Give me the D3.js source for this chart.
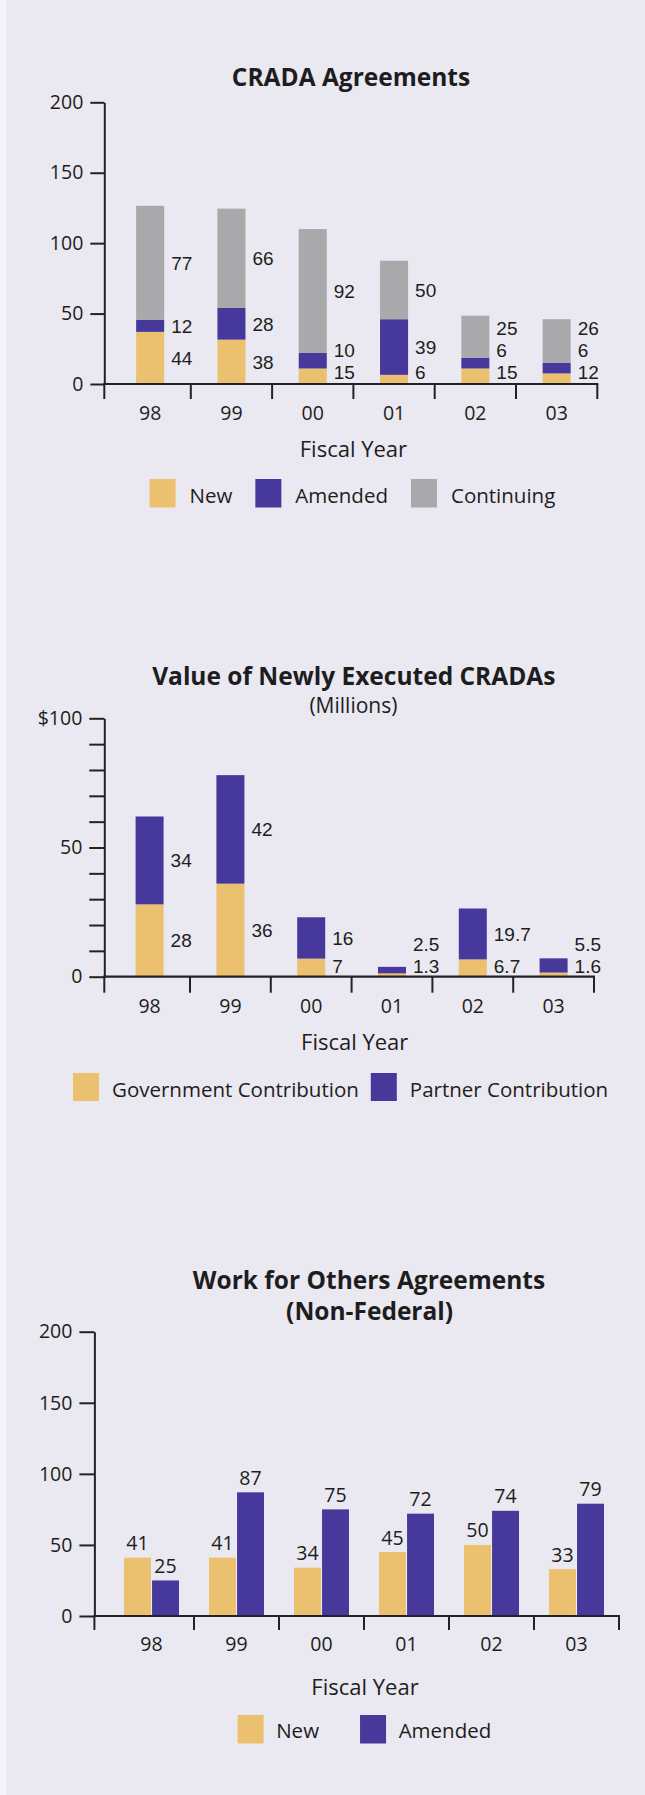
<!DOCTYPE html>
<html><head><meta charset="utf-8">
<script src="https://cdn.jsdelivr.net/npm/d3@7"></script>
<style>
html,body{margin:0;padding:0;background:#eae8f0;}
svg{display:block;}
text{font-family:"Open Sans",sans-serif;fill:#1d1d20;}
</style></head><body>
<svg id="c" width="645" height="1795"></svg>
<script>
// ---------- DATA ----------
const years = ["98", "99", "00", "01", "02", "03"];

// Chart 1: CRADA Agreements (bar heights as drawn, and the printed labels)
const cradaNew = [37, 31.5, 11, 6.5, 11, 7.5];
const cradaAmended = [8.5, 22.5, 11, 39.5, 7.5, 7.5];
const cradaContinuing = [81, 70.5, 88, 41.5, 30, 31];
const cradaNewLabels = ["44", "38", "15", "6", "15", "12"];
const cradaAmendedLabels = ["12", "28", "10", "39", "6", "6"];
const cradaContinuingLabels = ["77", "66", "92", "50", "25", "26"];
const cradaTicks = [0, 50, 100, 150, 200];

// Chart 2: Value of Newly Executed CRADAs (Millions)
const valueGov = [28, 36, 7, 1.3, 6.7, 1.6];
const valuePartner = [34, 42, 16, 2.5, 19.7, 5.5];
const valueTicks = [0, 10, 20, 30, 40, 50, 60, 70, 80, 90, 100];
const valueTickLabels = ["0", "", "", "", "", "50", "", "", "", "", "$100"];

// Chart 3: Work for Others Agreements (Non-Federal)
const wfoNew = [41, 41, 34, 45, 50, 33];
const wfoAmended = [25, 87, 75, 72, 74, 79];
const wfoTicks = [0, 50, 100, 150, 200];

// ---------- STYLE ----------
const C_NEW = "#ebc06f", C_AMD = "#46399b", C_CONT = "#a9a9ab", C_AX = "#222226";
const FS_VAL = 19.5, FS_TICK = 19.5, FS_XT = 22, FS_TITLE = 24.5, FS_LEG = 20.5;

const svg = d3.select("#c");
svg.append("rect").attr("x", 0).attr("y", 0).attr("width", 645).attr("height", 1795).attr("fill", "#eae8f0");
svg.append("rect").attr("x", 0).attr("y", 0).attr("width", 6).attr("height", 1795).attr("fill", "#f4f3f7");

function yAxis(g, y, ticks, fmt, x0, len) {
  const ax = g.append("g").attr("transform", `translate(${x0},0)`)
    .call(d3.axisLeft(y).tickValues(ticks).tickFormat(fmt).tickSize(len).tickSizeOuter(0).tickPadding(7));
  ax.attr("font-family", null).attr("font-size", null);
  ax.select(".domain").attr("stroke", C_AX).attr("stroke-width", 2);
  ax.selectAll(".tick line").attr("stroke", C_AX).attr("stroke-width", 2);
  ax.selectAll(".tick text").attr("font-size", FS_TICK).attr("fill", "#1d1d20");
}

function xAxis(g, x, yAxisX, y0, labelBase, tickLen) {
  const r = x.range(), step = x.step();
  g.append("line").attr("x1", yAxisX - 1).attr("x2", r[1] + 1).attr("y1", y0).attr("y2", y0)
    .attr("stroke", C_AX).attr("stroke-width", 2.2);
  const tks = [yAxisX].concat(d3.range(1, x.domain().length + 1).map(i => r[0] + i * step));
  g.selectAll(null).data(tks).join("line")
    .attr("x1", d => d).attr("x2", d => d).attr("y1", y0).attr("y2", y0 + tickLen)
    .attr("stroke", C_AX).attr("stroke-width", 2);
  g.selectAll(null).data(x.domain()).join("text")
    .attr("x", d => x(d) + x.bandwidth() / 2).attr("y", labelBase)
    .attr("text-anchor", "middle").attr("font-size", FS_VAL).text(d => d);
}

function legend(g, items, x0, top, h, base, swGap, itemGap) {
  let x = x0;
  items.forEach(it => {
    g.append("rect").attr("x", x).attr("y", top).attr("width", 26).attr("height", h).attr("fill", it.color);
    x += 26 + swGap;
    const t = g.append("text").attr("x", x).attr("y", base).attr("font-size", FS_LEG).text(it.name);
    x += t.node().getComputedTextLength() + itemGap;
  });
}

function stackedLabels(g, x, y, keys, rows, labels, clampGap, minGap) {
  const y0 = y(0);
  rows.forEach((row, i) => {
    let prev = null, acc = 0;
    keys.forEach((k, j) => {
      const lo = acc, hi = acc + row[k]; acc = hi;
      let c = (y(lo) + y(hi)) / 2;
      if (prev === null) c = Math.min(c, y0 - clampGap);
      else c = Math.min(c, prev - minGap);
      prev = c;
      g.append("text").attr("x", x(row.year) + x.bandwidth() + 7).attr("y", c).attr("dy", "0.36em")
        .style("font-family", '"Liberation Sans", Arial, sans-serif')
        .attr("font-size", 19).text(labels[j][i]);
    });
  });
}

// ---------- CHART 1 ----------
{
  const g = svg.append("g");
  const x = d3.scaleBand().domain(years).range([109.5, 597.3]).paddingInner(0.655).paddingOuter(0.3275);
  const y = d3.scaleLinear().domain([0, 200]).range([384, 102.3]);
  const keys = ["new", "amended", "continuing"];
  const rows = years.map((yr, i) => ({ year: yr, new: cradaNew[i], amended: cradaAmended[i], continuing: cradaContinuing[i] }));
  const series = d3.stack().keys(keys)(rows);
  const col = { new: C_NEW, amended: C_AMD, continuing: C_CONT };
  g.selectAll(null).data(series).join("g").attr("fill", s => col[s.key])
    .selectAll("rect").data(s => s).join("rect")
    .attr("x", d => x(d.data.year)).attr("width", x.bandwidth())
    .attr("y", d => y(d[1])).attr("height", d => y(d[0]) - y(d[1]));
  yAxis(g, y, cradaTicks, d3.format("d"), 104.3, 14);
  xAxis(g, x, 104.3, 384, 420, 15);
  stackedLabels(g, x, y, keys, rows, [cradaNewLabels, cradaAmendedLabels, cradaContinuingLabels], 12.3, 22);
  g.append("text").attr("x", 351).attr("y", 85.5).attr("text-anchor", "middle")
    .attr("font-size", FS_TITLE).attr("font-weight", "bold").text("CRADA Agreements");
  g.append("text").attr("x", 353.4).attr("y", 457.2).attr("text-anchor", "middle")
    .attr("font-size", FS_XT).text("Fiscal Year");
  legend(g, [{ name: "New", color: C_NEW }, { name: "Amended", color: C_AMD }, { name: "Continuing", color: C_CONT }],
    149.5, 479, 28.5, 503, 14, 23);
}

// ---------- CHART 2 ----------
{
  const g = svg.append("g");
  const x = d3.scaleBand().domain(years).range([109.2, 594]).paddingInner(0.6535).paddingOuter(0.32675);
  const y = d3.scaleLinear().domain([0, 100]).range([976.7, 718.3]);
  const keys = ["gov", "partner"];
  const rows = years.map((yr, i) => ({ year: yr, gov: valueGov[i], partner: valuePartner[i] }));
  const series = d3.stack().keys(keys)(rows);
  const col = { gov: C_NEW, partner: C_AMD };
  g.selectAll(null).data(series).join("g").attr("fill", s => col[s.key])
    .selectAll("rect").data(s => s).join("rect")
    .attr("x", d => x(d.data.year)).attr("width", x.bandwidth())
    .attr("y", d => y(d[1])).attr("height", d => y(d[0]) - y(d[1]));
  yAxis(g, y, valueTicks, (d, i) => valueTickLabels[i], 104.3, 15);
  xAxis(g, x, 104.3, 976.7, 1012.5, 16);
  stackedLabels(g, x, y, keys, rows, [valueGov.map(String), valuePartner.map(String)], 11, 22);
  g.append("text").attr("x", 353.8).attr("y", 684.5).attr("text-anchor", "middle")
    .attr("font-size", FS_TITLE).attr("font-weight", "bold").text("Value of Newly Executed CRADAs");
  g.append("text").attr("x", 353.4).attr("y", 713).attr("text-anchor", "middle")
    .attr("font-size", 21).text("(Millions)");
  g.append("text").attr("x", 354.7).attr("y", 1049.5).attr("text-anchor", "middle")
    .attr("font-size", FS_XT).text("Fiscal Year");
  legend(g, [{ name: "Government Contribution", color: C_NEW }, { name: "Partner Contribution", color: C_AMD }],
    73, 1073, 28, 1097, 13, 12);
}

// ---------- CHART 3 ----------
{
  const g = svg.append("g");
  const x = d3.scaleBand().domain(years).range([109, 619]).paddingInner(0.353).paddingOuter(0.1765);
  const sub = d3.scaleBand().domain(["new", "amended"]).range([0, x.bandwidth()]).paddingInner(0.04);
  const y = d3.scaleLinear().domain([0, 200]).range([1616, 1331.7]);
  const rows = years.map((yr, i) => ({ year: yr, vals: [{ k: "new", v: wfoNew[i] }, { k: "amended", v: wfoAmended[i] }] }));
  const col = { new: C_NEW, amended: C_AMD };
  const grp = g.selectAll(null).data(rows).join("g").attr("transform", d => `translate(${x(d.year)},0)`);
  grp.selectAll("rect").data(d => d.vals).join("rect")
    .attr("x", d => sub(d.k)).attr("width", sub.bandwidth())
    .attr("y", d => y(d.v)).attr("height", d => y(0) - y(d.v)).attr("fill", d => col[d.k]);
  grp.selectAll("text").data(d => d.vals).join("text")
    .attr("x", d => sub(d.k) + sub.bandwidth() / 2).attr("y", d => y(d.v) - 7.5)
    .attr("text-anchor", "middle").attr("font-size", FS_VAL).text(d => d.v);
  yAxis(g, y, wfoTicks, d3.format("d"), 94.4, 15);
  xAxis(g, x, 94.4, 1616, 1651.3, 14);
  g.append("text").attr("x", 369).attr("y", 1288.5).attr("text-anchor", "middle")
    .attr("font-size", FS_TITLE).attr("font-weight", "bold").text("Work for Others Agreements");
  g.append("text").attr("x", 369.6).attr("y", 1320).attr("text-anchor", "middle")
    .attr("font-size", FS_TITLE).attr("font-weight", "bold").text("(Non-Federal)");
  g.append("text").attr("x", 365).attr("y", 1694.5).attr("text-anchor", "middle")
    .attr("font-size", FS_XT).text("Fiscal Year");
  legend(g, [{ name: "New", color: C_NEW }, { name: "Amended", color: C_AMD }],
    237.6, 1715, 28.5, 1738, 12.6, 41);
}
</script>
</body></html>
